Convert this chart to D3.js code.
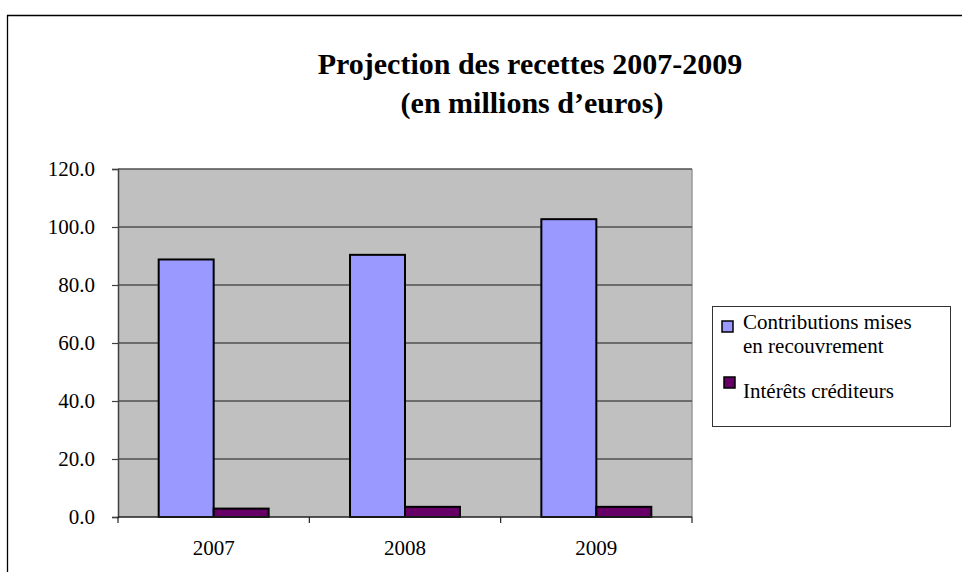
<!DOCTYPE html>
<html>
<head>
<meta charset="utf-8">
<script src="https://cdn.jsdelivr.net/npm/d3@7/dist/d3.min.js"></script>
<style>
  body { margin: 0; background: white; }
  svg { font-family: "Liberation Serif", "Times New Roman", serif; }
</style>
</head>
<body>
<div id="chart"></div>
<script>
// data
const years = ["2007", "2008", "2009"];
const seriesNames = ["Contributions mises en recouvrement", "Intérêts créditeurs"];
const contributions = [88.8, 90.4, 102.7];
const interets = [2.9, 3.5, 3.5];
const yTicks = [0, 20, 40, 60, 80, 100, 120];

const width = 962, height = 572;
const colors = ["#9999ff", "#660066"];
const labelSize = "21px";

const svg = d3.select("#chart").append("svg")
    .attr("width", width)
    .attr("height", height);

// outer chart border (open at right and bottom, cropped)
svg.append("path")
    .attr("d", "M7.5," + height + " V15.5 H" + width)
    .attr("fill", "none")
    .attr("stroke", "#000")
    .attr("stroke-width", 1.3);

const plot = { left: 118, right: 692, top: 169, bottom: 517 };

const x = d3.scaleBand()
    .domain(years)
    .range([plot.left, plot.right])
    .paddingInner(0)
    .paddingOuter(0);

const xSub = d3.scaleBand()
    .domain([0, 1])
    .range([0, x.bandwidth()])
    .paddingInner(0)
    .paddingOuter(0.74);

const y = d3.scaleLinear()
    .domain([0, 120])
    .range([plot.bottom, plot.top]);

// plot background
svg.append("rect")
    .attr("x", plot.left)
    .attr("y", plot.top)
    .attr("width", plot.right - plot.left)
    .attr("height", plot.bottom - plot.top)
    .attr("fill", "#c0c0c0");

// right edge of plot area
svg.append("line")
    .attr("x1", plot.right).attr("x2", plot.right)
    .attr("y1", plot.top).attr("y2", plot.bottom)
    .attr("stroke", "#9a9a9a")
    .attr("stroke-width", 1.5);

// gridlines
svg.append("g")
    .selectAll("line")
    .data(yTicks.filter(d => d > 0))
    .enter()
    .append("line")
    .attr("x1", plot.left).attr("x2", plot.right)
    .attr("y1", d => y(d)).attr("y2", d => y(d))
    .attr("stroke", "#505050")
    .attr("stroke-width", 1.5);

// y axis
const yAxis = svg.append("g")
    .attr("transform", "translate(" + plot.left + ",0)")
    .call(d3.axisLeft(y).tickValues(yTicks).tickFormat(d3.format(".1f")).tickSize(6).tickPadding(17));
yAxis.attr("font-size", null).attr("font-family", null);
yAxis.select(".domain").attr("stroke", "#404040").attr("stroke-width", 1.5);
yAxis.selectAll(".tick line").attr("stroke", "#404040").attr("stroke-width", 1.2);
yAxis.selectAll("text")
    .attr("fill", "#000")
    .style("font-size", labelSize);

// bars
const groups = svg.append("g")
    .selectAll("g")
    .data(years)
    .enter()
    .append("g")
    .attr("transform", d => "translate(" + x(d) + ",0)");

groups.selectAll("rect")
    .data((d, i) => [contributions[i], interets[i]])
    .enter()
    .append("rect")
    .attr("x", (d, i) => xSub(i))
    .attr("y", d => y(d))
    .attr("width", xSub.bandwidth())
    .attr("height", d => y(0) - y(d))
    .attr("fill", (d, i) => colors[i])
    .attr("stroke", "#000")
    .attr("stroke-width", 2);

// x axis
const xAxis = svg.append("g")
    .attr("transform", "translate(0," + plot.bottom + ")");
xAxis.append("line")
    .attr("x1", plot.left).attr("x2", plot.right)
    .attr("y1", 0).attr("y2", 0)
    .attr("stroke", "#202020")
    .attr("stroke-width", 1.5);
xAxis.selectAll(".xtick")
    .data(years.concat(["end"]))
    .enter()
    .append("line")
    .attr("x1", (d, i) => plot.left + i * x.step())
    .attr("x2", (d, i) => plot.left + i * x.step())
    .attr("y1", 0).attr("y2", 6)
    .attr("stroke", "#202020")
    .attr("stroke-width", 1.2);
xAxis.selectAll("text")
    .data(years)
    .enter()
    .append("text")
    .attr("x", d => x(d) + x.bandwidth() / 2)
    .attr("y", 38)
    .attr("text-anchor", "middle")
    .style("font-size", labelSize)
    .text(d => d);

// title
const title = svg.append("g").style("font-weight", "bold").style("font-size", "30px");
title.append("text")
    .attr("x", 530).attr("y", 74)
    .attr("text-anchor", "middle")
    .text("Projection des recettes 2007-2009");
title.append("text")
    .attr("x", 532).attr("y", 113)
    .attr("text-anchor", "middle")
    .text("(en millions d\u2019euros)");

// legend
const legend = svg.append("g");
legend.append("rect")
    .attr("x", 712.5).attr("y", 306.5)
    .attr("width", 238).attr("height", 120)
    .attr("fill", "white")
    .attr("stroke", "#333")
    .attr("stroke-width", 1);

const legendItems = [
    { lines: ["Contributions mises", "en recouvrement"], sy: 321, sx: 722, ty: 329 },
    { lines: ["Intérêts créditeurs"], sy: 377, sx: 724, ty: 398 }
];

legendItems.forEach(function (item, i) {
    legend.append("rect")
        .attr("x", item.sx).attr("y", item.sy)
        .attr("width", 11).attr("height", 11)
        .attr("fill", colors[i])
        .attr("stroke", "#000")
        .attr("stroke-width", 1.5);
    const t = legend.append("text")
        .attr("x", 743).attr("y", item.ty)
        .style("font-size", labelSize);
    item.lines.forEach(function (l, j) {
        t.append("tspan").attr("x", 743).attr("dy", j === 0 ? 0 : 24).text(l);
    });
});
</script>
</body>
</html>
